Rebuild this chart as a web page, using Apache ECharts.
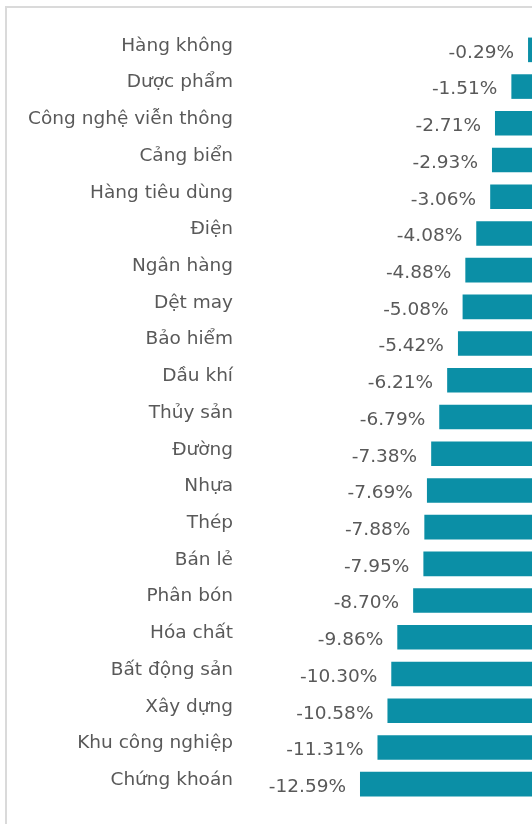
<!DOCTYPE html>
<html lang="vi">
<head>
    <meta charset="UTF-8">
    <title>Ngành</title>
    <script src="https://cdn.jsdelivr.net/npm/echarts/dist/echarts.min.js"></script>
    <style>
        html, body { margin: 0; padding: 0; background: #fff; }
        #chart { width: 532px; height: 824px; }
    </style>
</head>
<body>
<div id="chart"></div>
<script>
    const sectors = ['Hàng không', 'Dược phẩm', 'Công nghệ viễn thông', 'Cảng biển', 'Hàng tiêu dùng',
        'Điện', 'Ngân hàng', 'Dệt may', 'Bảo hiểm', 'Dầu khí', 'Thủy sản', 'Đường', 'Nhựa', 'Thép',
        'Bán lẻ', 'Phân bón', 'Hóa chất', 'Bất động sản', 'Xây dựng', 'Khu công nghiệp', 'Chứng khoán'];
    const changes = [-0.29, -1.51, -2.71, -2.93, -3.06, -4.08, -4.88, -5.08, -5.42, -6.21, -6.79,
        -7.38, -7.69, -7.88, -7.95, -8.70, -9.86, -10.30, -10.58, -11.31, -12.59];

    const chart = echarts.init(document.getElementById('chart'));
    const font = 'DejaVu Sans';
    chart.setOption({
        animation: false,
        graphic: [{
            type: 'rect',
            shape: { x: 6, y: 7, width: 700, height: 900 },
            style: { fill: 'none', stroke: '#dadada', lineWidth: 2 },
            silent: true
        }],
        grid: { left: 241, right: -2, top: 31.5, bottom: 21.5 },
        xAxis: {
            type: 'value',
            min: -21.3,
            max: 0,
            show: false
        },
        yAxis: {
            type: 'category',
            data: sectors,
            inverse: true,
            axisLine: { show: false },
            axisTick: { show: false },
            axisLabel: {
                color: '#595959',
                fontFamily: font,
                fontSize: 18.5,
                margin: 8,
                verticalAlign: 'bottom',
                lineHeight: 8
            }
        },
        series: [{
            type: 'bar',
            data: changes,
            barCategoryGap: '33%',
            itemStyle: { color: '#0b8fa6' },
            label: {
                show: true,
                position: 'left',
                distance: 14,
                offset: [0, 3],
                color: '#595959',
                fontFamily: font,
                fontSize: 18.5,
                formatter: p => p.value.toFixed(2) + '%'
            }
        }]
    });
</script>
</body>
</html>
